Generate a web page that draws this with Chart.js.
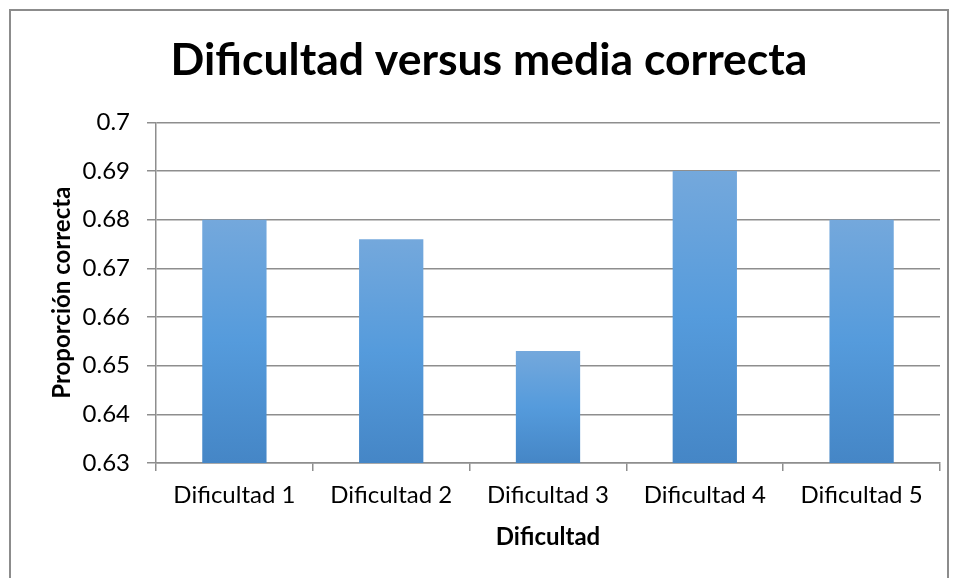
<!DOCTYPE html>
<html>
<head>
<meta charset="utf-8">
<script src="https://cdn.jsdelivr.net/npm/chart.js@4"></script>
<style>
  body { margin: 0; background: #fff; }
  #wrap { position: relative; width: 957px; height: 578px; }
  #frame { position: absolute; left: 9px; top: 9px; width: 936px; height: 600px;
           border: 2px solid #8c8c8c; border-bottom: none; }
  canvas { position: absolute; left: 0; top: 0; }
</style>
</head>
<body>
<div id="wrap">
  <div id="frame"></div>
  <canvas id="chart" width="957" height="578"></canvas>
</div>
<script>
const categories = ['Dificultad 1', 'Dificultad 2', 'Dificultad 3', 'Dificultad 4', 'Dificultad 5'];
const proportions = [0.68, 0.676, 0.653, 0.69, 0.68];
const yMin = 0.63;
const yMax = 0.7;
const yStep = 0.01;

const FONT = 'Lato';
const gridColor = '#8e8e8e';

// excel style gradient, one per bar
function barGradient(ctx) {
    const chart = ctx.chart;
    const yScale = chart.scales.y;
    if (!chart.chartArea || !yScale || ctx.raw === undefined) return '#559BDC';
    const top = yScale.getPixelForValue(ctx.raw);
    const bottom = yScale.getPixelForValue(yMin);
    const g = chart.ctx.createLinearGradient(0, top, 0, bottom);
    g.addColorStop(0, '#74A8DC');
    g.addColorStop(0.5, '#559BDC');
    g.addColorStop(1, '#4586C6');
    return g;
}

new Chart(document.getElementById('chart'), {
    type: 'bar',
    data: {
        labels: categories,
        datasets: [{
            data: proportions,
            backgroundColor: barGradient,
            borderWidth: 0,
            barPercentage: 0.41,
            categoryPercentage: 1
        }]
    },
    options: {
        responsive: false,
        animation: false,
        layout: { padding: { left: 21, right: 0, top: 0, bottom: 0 } },
        plugins: {
            legend: { display: false },
            tooltip: { enabled: false },
            title: {
                display: true,
                text: 'Dificultad versus media correcta',
                color: '#000',
                font: { family: FONT, size: 44.5, weight: 'bold' },
                padding: { top: 34, bottom: 35 }
            }
        },
        scales: {
            x: {
                afterFit: s => { s.height = 115; },
                grid: {
                    display: true,
                    drawOnChartArea: false,
                    offset: true,
                    tickLength: 8,
                    color: gridColor,
                    lineWidth: 1.5
                },
                border: { color: gridColor, width: 1.5 },
                ticks: {
                    color: '#000',
                    padding: 10,
                    maxRotation: 0,
                    font: { family: FONT, size: 24 }
                },
                title: {
                    display: true,
                    text: 'Dificultad',
                    color: '#000',
                    font: { family: FONT, size: 24, weight: 'bold' },
                    padding: { top: 0, bottom: 26 }
                }
            },
            y: {
                min: yMin,
                max: yMax,
                afterFit: s => { s.width = 135; },
                grid: {
                    color: gridColor,
                    lineWidth: 1.5,
                    tickLength: 9
                },
                border: { color: gridColor, width: 1.5 },
                ticks: {
                    stepSize: yStep,
                    color: '#000',
                    padding: 17,
                    font: { family: FONT, size: 24 },
                    callback: v => String(Math.round(v * 100) / 100)
                },
                title: {
                    display: true,
                    text: 'Proporción correcta',
                    color: '#000',
                    font: { family: FONT, size: 24, weight: 'bold' },
                    padding: { top: 27, bottom: 0 }
                }
            },
            // empty right axis, only keeps the plot off the right edge
            yRight: {
                position: 'right',
                afterFit: s => { s.width = 17; },
                grid: { display: false },
                border: { display: false },
                ticks: { display: false },
                title: { display: false }
            }
        }
    }
});
</script>
</body>
</html>
